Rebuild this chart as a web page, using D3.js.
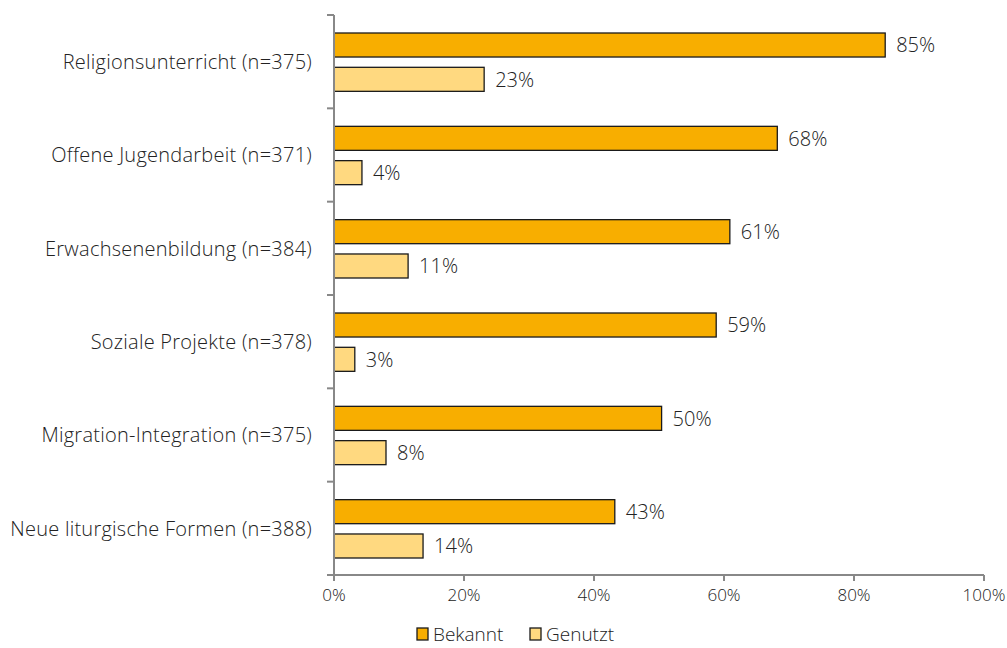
<!DOCTYPE html>
<html><head><meta charset="utf-8">
<script src="https://cdn.jsdelivr.net/npm/d3@7"></script>
<style>body{margin:0;background:#fff}svg{display:block}text{font-family:"Open Sans",Lato,sans-serif;font-weight:300;fill:#222}</style>
</head><body><div id="c"></div>
<script>
const categories = ["Religionsunterricht (n=375)","Offene Jugendarbeit (n=371)","Erwachsenenbildung (n=384)","Soziale Projekte (n=378)","Migration-Integration (n=375)","Neue liturgische Formen (n=388)"];
const seriesNames = ["Bekannt","Genutzt"];
const bekannt = [84.8,68.2,60.9,58.8,50.4,43.2];
const genutzt = [23.1,4.3,11.4,3.2,8.0,13.7];
const xTicks = [0,20,40,60,80,100];
const colors = ["#F8AE00","#FFD980"];

const W=1007,H=648;
const svg=d3.select("#c").append("svg").attr("width",W).attr("height",H);
const x=d3.scaleLinear().domain([0,100]).range([334,984]);
const y=d3.scaleBand().domain(categories).range([15,575]);
const inner=d3.scaleBand().domain(seriesNames).range([18,y.bandwidth()-17]).paddingInner(0.3);
const series=[bekannt,genutzt];

const g=svg.append("g");
categories.forEach((c,i)=>{
  series.forEach((s,j)=>{
    const y0=y(c)+inner(seriesNames[j]);
    g.append("rect").attr("x",x(0)).attr("y",y0).attr("width",x(s[i])-x(0)).attr("height",inner.bandwidth())
      .attr("fill",colors[j]).attr("stroke","#1a1a1a").attr("stroke-width",1.3);
    g.append("text").attr("x",x(s[i])+11).attr("y",y0+inner.bandwidth()/2).attr("dy","0.36em")
      .attr("font-size",20).text(d3.format(".0f")(s[i])+"%");
  });
});

// y axis
const ya=svg.append("g").attr("transform",`translate(${x(0)},0)`);
ya.append("line").attr("y1",15).attr("y2",575).attr("stroke","#888").attr("stroke-width",2);
d3.range(categories.length+1).forEach(k=>{
  const yy=15+k*y.step();
  ya.append("line").attr("x1",-7).attr("x2",0).attr("y1",yy).attr("y2",yy).attr("stroke","#888").attr("stroke-width",2);
});
categories.forEach(c=>{
  ya.append("text").attr("x",-22).attr("y",y(c)+y.bandwidth()/2).attr("dy","0.36em").attr("text-anchor","end")
    .attr("font-size",20).attr("letter-spacing","0.25px").text(c);
});

// x axis
const xa=svg.append("g").attr("transform","translate(0,575)");
xa.append("line").attr("x1",x(0)-7).attr("x2",x(100)).attr("stroke","#888").attr("stroke-width",2);
xTicks.forEach(t=>{
  xa.append("line").attr("x1",x(t)).attr("x2",x(t)).attr("y1",0).attr("y2",6).attr("stroke","#888").attr("stroke-width",2);
  xa.append("text").attr("x",x(t)).attr("y",26).attr("text-anchor","middle").attr("font-size",17).text(t+"%");
});

// legend
const lg=svg.append("g");
const lx=[417,530];
seriesNames.forEach((n,j)=>{
  lg.append("rect").attr("x",lx[j]).attr("y",628).attr("width",11).attr("height",12).attr("fill",colors[j]).attr("stroke","#1a1a1a").attr("stroke-width",1.3);
  lg.append("text").attr("x",lx[j]+16).attr("y",634).attr("dy","0.36em").attr("font-size",19).text(n);
});
</script></body></html>
